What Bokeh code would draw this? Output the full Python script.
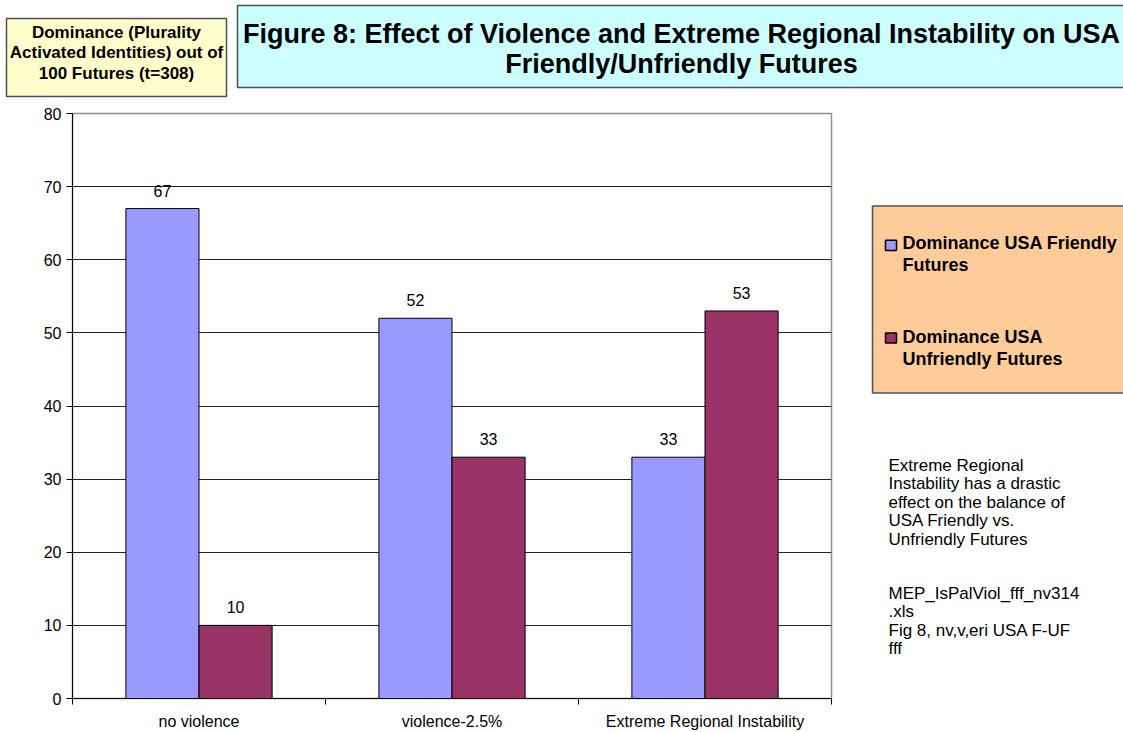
import numpy as np
from bokeh.plotting import figure
from bokeh.layouts import column, row
from bokeh.models import Label, FixedTicker, Range1d, ColumnDataSource, LabelSet
from bokeh.core.properties import value
from bokeh.embed import file_html
from bokeh.resources import INLINE

# ---- data ----
categories = ["no violence", "violence-2.5%", "Extreme Regional Instability"]
friendly = [67, 52, 33]
unfriendly = [10, 33, 53]
series_names = ["Dominance USA Friendly\nFutures", "Dominance USA\nUnfriendly Futures"]
series_colors = ["#9999FF", "#993366"]
y_ticks = [0, 10, 20, 30, 40, 50, 60, 70, 80]
title_text = ("Figure 8: Effect of Violence and Extreme Regional Instability on USA\n"
              "Friendly/Unfriendly Futures")
ylabel_text = "Dominance (Plurality\nActivated Identities) out of\n100 Futures (t=308)"
note_text = ("Extreme Regional\nInstability has a drastic\neffect on the balance of\n"
             "USA Friendly vs.\nUnfriendly Futures\n\nMEP_IsPalViol_fff_nv314\n.xls\n"
             "Fig 8, nv,v,eri USA F-UF\nfff")

FONT = "Liberation Sans"
n = len(categories)
centers = np.arange(n) + 0.5
bw = 0.289
off = 0.1445

# ---------------- main chart ----------------
p = figure(width=845, height=632, output_backend="svg", toolbar_location=None,
           x_range=Range1d(0, n), y_range=Range1d(0, 80),
           min_border_left=72, min_border_right=14,
           min_border_top=13, min_border_bottom=33)
p.background_fill_color = "white"
p.border_fill_color = "white"
p.outline_line_color = "#909090"
p.outline_line_width = 1.5

src = ColumnDataSource(dict(
    xf=centers - off, xu=centers + off,
    friendly=friendly, unfriendly=unfriendly,
    lf=[str(v) for v in friendly], lu=[str(v) for v in unfriendly]))

p.vbar(x="xf", top="friendly", width=bw, source=src,
       fill_color=series_colors[0], line_color="black", line_width=1)
p.vbar(x="xu", top="unfriendly", width=bw, source=src,
       fill_color=series_colors[1], line_color="black", line_width=1)

for xc, yc, tc in (("xf", "friendly", "lf"), ("xu", "unfriendly", "lu")):
    p.add_layout(LabelSet(x=xc, y=yc, text=tc, source=src, y_offset=12,
                          text_align="center", text_baseline="bottom",
                          text_font=value(FONT), text_font_size="16px",
                          text_color="black"))

p.yaxis.ticker = FixedTicker(ticks=y_ticks)
p.yaxis.axis_line_color = "black"
p.yaxis.major_tick_out = 6
p.yaxis.major_tick_in = 0
p.yaxis.minor_tick_out = 0
p.yaxis.major_tick_line_color = "black"
p.yaxis.major_label_standoff = 5
p.yaxis.major_label_text_font = FONT
p.yaxis.major_label_text_font_size = "16px"
p.yaxis.major_label_text_color = "black"

p.xaxis.ticker = FixedTicker(ticks=list(centers), minor_ticks=list(range(n + 1)))
p.xaxis.major_label_overrides = {float(c): lab for c, lab in zip(centers, categories)}
p.xaxis.axis_line_color = "black"
p.xaxis.major_tick_out = 0
p.xaxis.major_tick_in = 0
p.xaxis.minor_tick_out = 6
p.xaxis.minor_tick_in = 0
p.xaxis.minor_tick_line_color = "black"
p.xaxis.major_label_standoff = 8
p.xaxis.major_label_text_font = FONT
p.xaxis.major_label_text_font_size = "16px"
p.xaxis.major_label_text_color = "black"

p.xgrid.visible = False
p.ygrid.ticker = FixedTicker(ticks=y_ticks[1:-1])
p.ygrid.grid_line_color = "#222222"
p.ygrid.grid_line_width = 1


# ---------------- decoration canvases (pixel coordinates, y downward) ----------------
def canvas(w, h):
    f = figure(width=w, height=h, output_backend="svg", toolbar_location=None,
               x_range=Range1d(0, w), y_range=Range1d(h, 0),
               x_axis_type=None, y_axis_type=None, min_border=0)
    f.xgrid.visible = False
    f.ygrid.visible = False
    f.outline_line_color = None
    f.background_fill_color = "white"
    f.border_fill_color = "white"
    return f

def box(f, l, r, t, b, fill, lc="#505050", lw=1.5):
    f.quad(left=l, right=r, top=t, bottom=b, fill_color=fill, line_color=lc, line_width=lw)

def label(f, x, y, text, size, bold=False, align="left", baseline="top", lh=1.2):
    f.add_layout(Label(x=x, y=y, text=text, text_align=align, text_baseline=baseline,
                       text_font=FONT, text_font_size=size,
                       text_font_style="bold" if bold else "normal",
                       text_line_height=lh, text_color="black"))

# top-left: y label box
fy = canvas(232, 100)
box(fy, 6, 226, 18, 96, "#FFFFCC")
label(fy, 116, 52.5, ylabel_text, "17px", bold=True, align="center", baseline="middle", lh=1.08)

# top-right: title box  (canvas x offset 232)
ft = canvas(891, 100)
box(ft, 5, 895, 5, 87, "#CCFFFF")
label(ft, 449, 48.5, title_text, "27px", bold=True, align="center", baseline="middle", lh=1.02)

# bottom-right: legend + notes (canvas offset x 845, y 100)
fr = canvas(278, 632)
box(fr, 27, 282, 100, 302, "#FFCC99")
leg_y = [137, 237]
leg_t = [129, 231]
for name, col, ty, tt in zip(series_names, series_colors, leg_y, leg_t):
    box(fr, 40, 51, ty, ty + 11, col, lc="black", lw=1.5)
    label(fr, 57, tt, name, "18px", bold=True, lh=1.1)

paragraphs = note_text.split("\n\n")
for para, top in zip(paragraphs, [370, 508]):
    label(fr, 43, top, para, "17px", lh=0.97)

layout = column(row(fy, ft), row(p, fr))
open("out.html", "w").write(file_html(layout, INLINE))
